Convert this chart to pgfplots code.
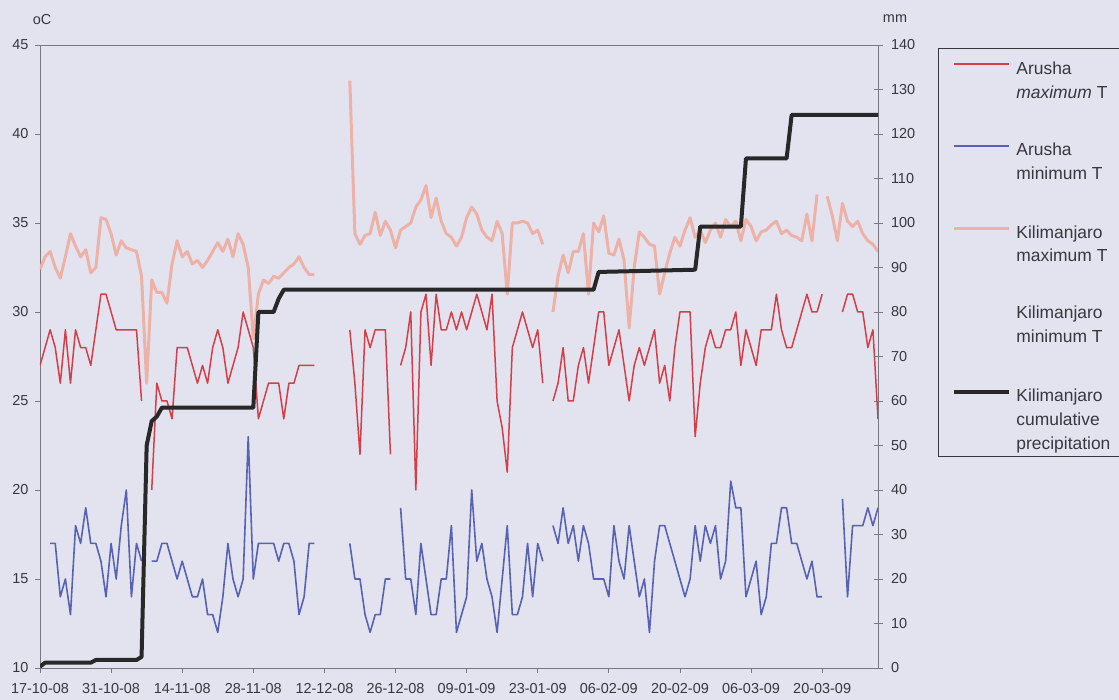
\documentclass[border=0pt]{standalone}
\usepackage{fontspec}
\setmainfont{Liberation Sans}
\usepackage{pgfplots}
\usepackage{pgfplotstable}
\pgfplotsset{compat=1.18}

\definecolor{bgc}{RGB}{227,227,239}
\definecolor{amaxc}{RGB}{212,62,72}
\definecolor{aminc}{RGB}{88,98,178}
\definecolor{kmaxc}{RGB}{236,178,168}
\definecolor{precc}{RGB}{40,40,40}
\definecolor{axc}{RGB}{120,120,130}
\definecolor{txc}{RGB}{55,55,62}

\pgfplotstableread{
d amax amin kmax
0 27 nan 32.4
1 28 nan 33.1
2 29 17 33.4
3 28 17 32.5
4 26 14 31.9
5 29 15 33.1
6 26 13 34.4
7 29 18 33.7
8 28 17 33.1
9 28 19 33.5
10 27 17 32.2
11 29 17 32.5
12 31 16 35.3
13 31 14 35.2
14 30 17 34.4
15 29 15 33.2
16 29 18 34.0
17 29 20 33.6
18 29 14 33.5
19 29 17 33.4
20 25 16 32.0
21 nan nan 26.0
22 20 16 31.8
23 26 16 31.1
24 25 17 31.1
25 25 17 30.5
26 24 16 32.7
27 28 15 34.0
28 28 16 33.1
29 28 15 33.4
30 27 14 32.7
31 26 14 32.9
32 27 15 32.5
33 26 13 32.9
34 28 13 33.4
35 29 12 33.9
36 28 14 33.4
37 26 17 34.1
38 27 15 33.1
39 28 14 34.4
40 30 15 33.8
41 29 23 32.5
42 28 15 28.5
43 24 17 31.0
44 25 17 31.8
45 26 17 31.6
46 26 17 32.0
47 26 16 31.9
48 24 17 32.2
49 26 17 32.5
50 26 16 32.7
51 27 13 33.1
52 27 14 32.5
53 27 17 32.1
54 27 17 32.1
55 nan nan nan
60 nan nan nan
61 29 17 43.0
62 26 15 34.4
63 22 15 33.8
64 29 13 34.3
65 28 12 34.4
66 29 13 35.6
67 29 13 34.3
68 29 15 35.1
69 22 15 34.6
70 nan nan 33.6
71 27 19 34.6
72 28 15 34.8
73 30 15 35.0
74 20 13 35.9
75 30 17 36.3
76 31 15 37.1
77 27 13 35.3
78 31 13 36.4
79 29 15 35.1
80 29 15 34.4
81 30 18 34.2
82 29 12 33.7
83 30 13 34.2
84 29 14 35.3
85 30 20 35.9
86 31 16 35.5
87 30 17 34.6
88 29 15 34.2
89 31 14 34.0
90 25 12 35.1
91 23.5 15 34.4
92 21 18 31.0
93 28 13 35.0
94 29 13 35.0
95 30 14 35.1
96 29 17 35.0
97 28 14 34.4
98 29 17 34.6
99 26 16 33.8
100 nan nan nan
101 25 18 30.0
102 26 17 32.0
103 28 19 33.2
104 25 17 32.2
105 25 18 33.4
106 27 16 33.4
107 28 18 34.4
108 26 17 31.0
109 28 15 35.0
110 30 15 34.5
111 30 15 35.4
112 27 14 33.3
113 28 18 33.2
114 29 16 34.1
115 27 15 32.9
116 25 18 29.1
117 27 16 32.5
118 28 14 34.5
119 27 15 34.2
120 28 12 33.8
121 29 16 33.7
122 26 18 31.0
123 27 18 32.2
124 25 17 33.3
125 28 16 34.2
126 30 15 33.7
127 30 14 34.6
128 30 15 35.3
129 23 18 34.2
130 26 16 34.6
131 28 18 33.9
132 29 17 34.6
133 28 18 35.0
134 28 15 34.2
135 29 16 35.2
136 29 20.5 34.8
137 30 19 35.1
138 27 19 34.0
139 29 14 35.2
140 28 15 34.8
141 27 16 34.0
142 29 13 34.5
143 29 14 34.6
144 29 17 34.9
145 31 17 35.1
146 29 19 34.4
147 28 19 34.6
148 28 17 34.3
149 29 17 34.2
150 30 16 34.0
151 31 15 35.5
152 30 16 34.0
153 30 14 36.6
154 31 14 nan
155 nan nan 36.5
156 nan nan 35.4
157 nan nan 34.0
158 30 19.5 36.1
159 31 14 35.1
160 31 18 34.8
161 30 18 35.1
162 30 18 34.4
163 28 19 34.0
164 29 18 33.8
165 24 19 33.4
}\temps

\pgfplotstableread{
d mm
0 0.3
1 1.2
10 1.2
11 1.8
19 1.8
20 2.5
21 50
22 55.5
23 56.5
24 58.5
42 58.5
43 80
46 80
47 83
48 85
109 85
110 89
129 89.5
130 99.2
138 99.2
139 114.5
147 114.5
148 124.3
165 124.3
}\precip

\newcommand{\lent}[1]{\begin{tabular}[t]{@{}p{125bp}@{}}#1\end{tabular}}

\begin{document}
\begin{tikzpicture}
\path[use as bounding box, fill=bgc] (0,0) rectangle (1119bp,700bp);

\begin{axis}[
  at={(40bp,32bp)}, anchor=south west,
  scale only axis, width=838bp, height=623bp,
  xmin=0, xmax=165, ymin=10, ymax=45,
  axis line style={axc, line width=0.9bp},
  xtick={0,14,...,154},
  xticklabels={17-10-08,31-10-08,14-11-08,28-11-08,12-12-08,26-12-08,09-01-09,23-01-09,06-02-09,20-02-09,06-03-09,20-03-09},
  ytick={10,15,...,45},
  tick pos=left,
  tick align=outside,
  major tick length=5bp,
  tick style={axc, line width=0.8bp},
  tick label style={font=\fontsize{14.5}{16}\selectfont, text=txc},
  xticklabel style={yshift=-7bp},
  yticklabel style={xshift=-3bp},
  /pgf/number format/assume math mode=true,
  unbounded coords=jump,
  clip mode=individual,
]
\addplot[amaxc, line width=1.5bp, line join=round] table[x=d, y=amax] {\temps};
\addplot[aminc, line width=1.6bp, line join=round] table[x=d, y=amin] {\temps};
\addplot[kmaxc, line width=3bp, line join=round] table[x=d, y=kmax] {\temps};
\end{axis}

\begin{axis}[
  at={(40bp,32bp)}, anchor=south west,
  scale only axis, width=838bp, height=623bp,
  xmin=0, xmax=165, ymin=0, ymax=140,
  axis x line=none, axis y line*=right,
  axis line style={axc, line width=0.9bp},
  ytick={0,10,...,140},
  ytick align=center, major tick length=9bp,
  tick style={axc, line width=0.8bp},
  tick label style={font=\fontsize{14.5}{16}\selectfont, text=txc},
  yticklabel style={xshift=5bp},
  /pgf/number format/assume math mode=true,
  clip mode=individual,
  legend image code/.code={\path (0bp,0bp) (0bp,25bp); \draw[#1] (11bp,10bp) -- (66bp,10bp);},
  legend style={
    at={(1.0716,0.9952)}, anchor=north west,
    draw=txc, line width=0.8bp, fill=none,
    inner xsep=3bp, inner ysep=0bp,
    row sep=24.7bp, column sep=5bp,
    font=\fontsize{17.5}{24}\selectfont,
    text=txc,
    nodes={inner sep=0bp, text depth=},
    cells={anchor=base west},
  },
]
\addlegendimage{amaxc, line width=1.5bp}
\addlegendentry{\lent{Arusha\\\textit{maximum} T}}
\addlegendimage{aminc, line width=1.6bp}
\addlegendentry{\lent{Arusha\\minimum T}}
\addlegendimage{kmaxc, line width=3bp}
\addlegendentry{\lent{Kilimanjaro\\maximum T}}
\addlegendimage{bgc, draw opacity=0, line width=0.1bp}
\addlegendentry{\lent{Kilimanjaro\\minimum T}}
\addplot[precc, line width=4bp, line join=round] table[x=d, y=mm] {\precip};
\addlegendentry{\lent{Kilimanjaro\\cumulative\\precipitation}}
\end{axis}

\node[anchor=base, font=\fontsize{14.5}{16}\selectfont, text=txc] at (42bp,675bp) {oC};
\node[anchor=base, font=\fontsize{14.5}{16}\selectfont, text=txc] at (895bp,677bp) {mm};
\end{tikzpicture}
\end{document}
